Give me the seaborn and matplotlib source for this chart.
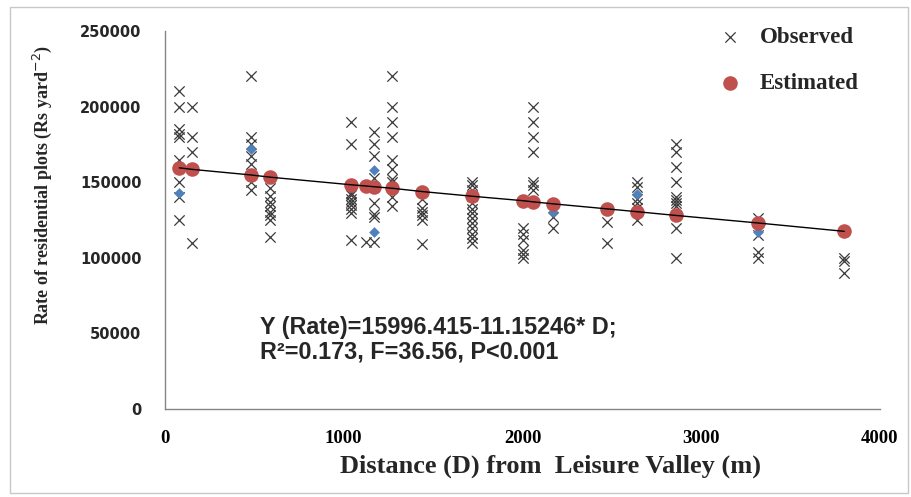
import matplotlib
matplotlib.use("Agg")
import matplotlib.pyplot as plt
import seaborn as sns
import pandas as pd
import numpy as np
from matplotlib.patches import Rectangle

# observed rates, grouped by distance column (m)
col_dist = [80, 150, 480, 590, 1040, 1124, 1169, 1270, 1440, 1720,
            2000, 2060, 2170, 2470, 2640, 2860, 3320, 3800]
col_rates = [
    [210000, 200000, 185000, 182000, 180000, 165000, 150000, 140000, 125000],
    [200000, 180000, 170000, 110000],
    [220000, 180000, 175000, 167000, 162000, 150000, 145000],
    [146000, 141000, 137000, 134000, 130000, 128000, 125000, 114000],
    [190000, 175000, 143000, 141500, 139000, 137000, 135000, 132500, 129500, 112000],
    [110500],
    [183000, 175000, 167000, 153000, 136000, 129000, 127000, 110500],
    [220000, 200000, 190000, 180000, 165000, 159000, 152000, 150000, 140000, 134000],
    [139000, 133000, 130500, 128000, 125000, 109000],
    [150000, 148000, 145000, 141000, 136000, 132500, 129500, 126000, 123000, 119500, 116000, 113000, 109500],
    [120000, 116000, 112000, 105000, 102500, 100000],
    [200000, 190000, 180000, 170000, 150000, 148000, 145000],
    [127000, 120000],
    [124000, 110000],
    [150000, 147000, 139000, 136000, 133000, 125000],
    [175000, 170000, 160000, 150000, 140000, 138000, 136000, 134000, 120000, 100000],
    [126000, 115000, 104000, 100000],
    [100000, 98000, 90000],
]

# estimated (fitted) rates
est_dist = [80, 150, 480, 590, 1040, 1124, 1169, 1270, 1440, 1720,
            2000, 2060, 2170, 2470, 2640, 2860, 3320, 3800]
est_rate = [159500, 158500, 154800, 153300, 148300, 147500, 147000, 146000, 143800, 140700,
            137800, 137000, 135700, 132400, 130500, 128000, 123000, 117500]

# blue points hidden under the crosses
blue_dist = [80, 480, 1169, 1169, 2170, 2640, 3320]
blue_rate = [143000, 172000, 158000, 117000, 130000, 142500, 117000]

obs = pd.DataFrame({
    "dist": [d for d, r in zip(col_dist, col_rates) for _ in r],
    "rate": [v for r in col_rates for v in r],
})
est = pd.DataFrame({"dist": est_dist, "rate": est_rate})
blue = pd.DataFrame({"dist": blue_dist, "rate": blue_rate})

sns.set_style("white")
W, H = 912, 497
fig = plt.figure(figsize=(W / 100, H / 100), dpi=100)
ax = fig.add_axes([165 / W, (H - 409) / H, 715 / W, 378 / H])

sns.scatterplot(data=obs, x="dist", y="rate", marker="x", color="#3a3a3a",
                s=55, linewidth=0.9, label="Observed", ax=ax, zorder=2)
sns.scatterplot(data=blue, x="dist", y="rate", marker="D", color="#4f81bd",
                s=30, linewidth=0, ax=ax, zorder=3, legend=False)
sns.scatterplot(data=est, x="dist", y="rate", marker="o", color="#c0504d",
                s=110, linewidth=0, label="Estimated", ax=ax, zorder=4)
sns.lineplot(data=est, x="dist", y="rate", color="black", linewidth=1,
             ax=ax, zorder=5, legend=False)

ax.set_xlim(0, 4000)
ax.set_ylim(0, 250000)
ax.set_xticks(np.arange(0, 4001, 1000))
ax.set_yticks(np.arange(0, 250001, 50000))

for s in ["top", "right"]:
    ax.spines[s].set_visible(False)
for s in ["left", "bottom"]:
    ax.spines[s].set_color("#868686")
    ax.spines[s].set_linewidth(1)

ax.tick_params(axis="both", direction="out", length=5, color="#868686", width=1)
ax.tick_params(axis="y", pad=12)
ax.tick_params(axis="x", pad=10)
for t in ax.get_yticklabels():
    t.set_fontfamily("DejaVu Sans")
    t.set_fontweight("bold")
    t.set_fontsize(10.5)
    t.set_color("#262626")
for t in ax.get_xticklabels():
    t.set_fontfamily("Liberation Serif")
    t.set_fontweight("bold")
    t.set_fontsize(13.5)
    t.set_color("black")

plt.rcParams["mathtext.fontset"] = "stix"
ax.set_xlabel("Distance (D) from  Leisure Valley (m)", fontsize=19,
              fontfamily="Liberation Serif", fontweight="bold")
ax.xaxis.set_label_coords((551 - 165) / 715, -(455 - 409) / 378)
ax.set_ylabel(r"Rate of residential plots (Rs yard$^{-2}$)", fontsize=13,
              fontfamily="Liberation Serif", fontweight="bold")
ax.yaxis.set_label_coords((54 - 165) / 715, (409 - 185) / 378)

ax.legend(loc="upper left", bbox_to_anchor=(698 / W, 1 - 18 / H),
          bbox_transform=fig.transFigure, frameon=False, labelspacing=1.1,
          handletextpad=0.3, borderaxespad=0,
          prop={"family": "Liberation Serif", "weight": "bold", "size": 16.5})

fig.text(260 / W, 1 - 316 / H,
         "Y (Rate)=15996.415-11.15246* D;\nR\u00b2=0.173, F=36.56, P<0.001",
         ha="left", va="top", fontsize=16.8, fontfamily="Liberation Sans",
         fontweight="bold", linespacing=1.1)

fig.patches.append(Rectangle((10 / W, 4 / H), 898 / W, 486 / H,
                             transform=fig.transFigure, fill=False,
                             edgecolor="#c8c8c8", linewidth=1))

fig.savefig("out.png", dpi=100)
